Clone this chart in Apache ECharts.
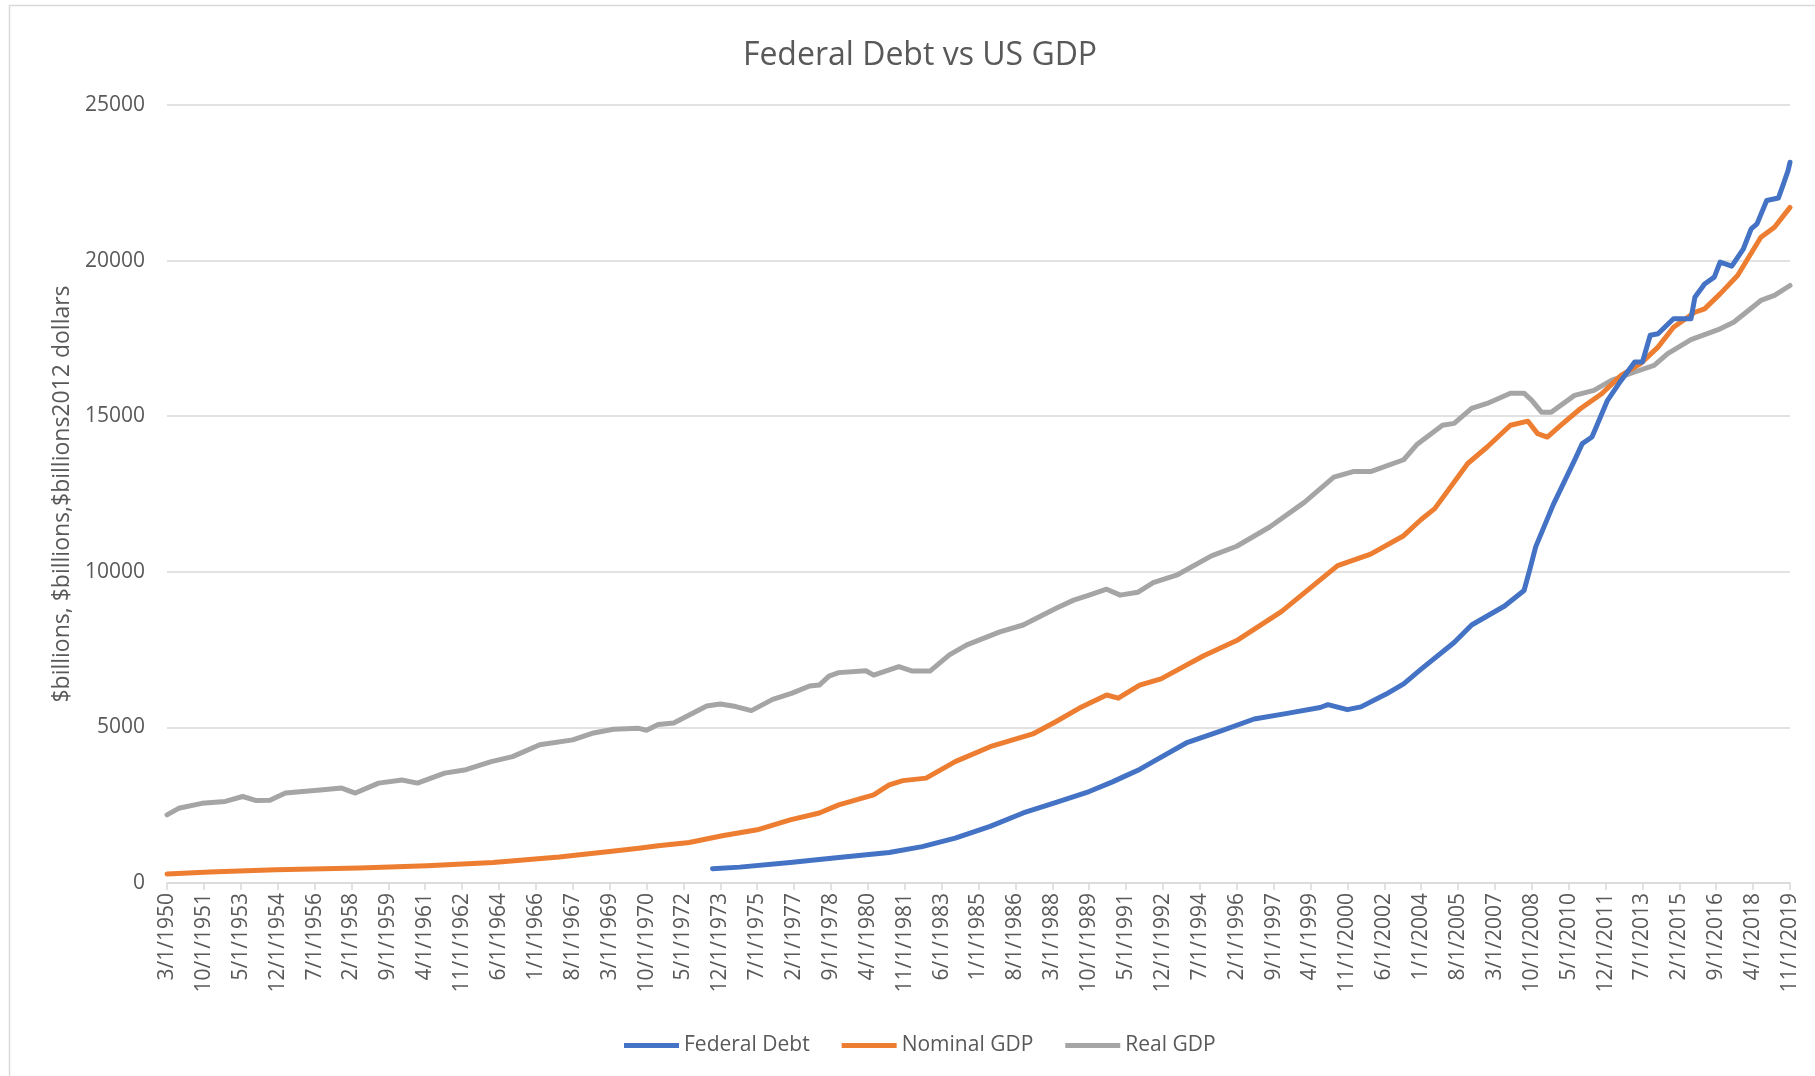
<!DOCTYPE html>
<html>
<head>
<meta charset="utf-8">
<title>Federal Debt vs US GDP</title>
<script src="https://cdn.jsdelivr.net/npm/echarts@6/dist/echarts.min.js"></script>
<style>
  html, body { margin: 0; padding: 0; background: #fff; }
  #chart { width: 1815px; height: 1076px; }
</style>
</head>
<body>
<div id="chart"></div>
<script>
// monthly category range of the sheet: 3/1/1950 .. 11/1/2019
const firstYear = 1950, firstMonth = 3;
const lastYear = 2019, lastMonth = 11;

const debtDates = ["8/1/1973","10/1/1974","12/1/1976","1/1/1979","3/1/1981","8/1/1982","1/1/1984","7/1/1985","12/1/1986","5/1/1988",
  "10/1/1989","10/1/1990","5/1/1991","12/1/1991","7/1/1992","12/1/1993","6/1/1995","11/1/1996","4/1/1998","9/1/1999",
  "1/1/2000","11/1/2000","6/1/2001","7/1/2002","4/1/2003","1/1/2004","6/1/2005","3/1/2006","8/1/2007","6/1/2008",
  "9/1/2008","12/1/2008","9/1/2009","8/1/2010","12/1/2010","5/1/2011","1/1/2012","8/1/2012","3/1/2013","7/1/2013",
  "11/1/2013","3/1/2014","11/1/2014","8/1/2015","10/1/2015","3/1/2016","8/1/2016","11/1/2016","5/1/2017","11/1/2017",
  "3/1/2018","6/1/2018","11/1/2018","5/1/2019","7/1/2019","10/1/2019","11/1/2019"];
const debtValues = [460,510,660,820,980,1170,1440,1820,2250,2590,
  2940,3250,3450,3650,3900,4500,4890,5270,5450,5640,
  5730,5570,5660,6070,6400,6870,7730,8290,8900,9400,
  10080,10800,12150,13580,14120,14330,15510,16150,16740,16740,
  17600,17650,18130,18130,18820,19250,19470,19950,19820,20380,
  21020,21180,21930,22010,22350,22890,23160];

const nominalDates = ["3/1/1950","1/1/1952","11/1/1954","6/1/1958","5/1/1961","3/1/1964","1/1/1967","3/1/1969","6/1/1970","4/1/1971",
  "8/1/1972","1/1/1974","7/1/1975","12/1/1976","3/1/1978","1/1/1979","7/1/1980","3/1/1981","10/1/1981","10/1/1982",
  "1/1/1984","7/1/1985","5/1/1987","5/1/1988","5/1/1989","7/1/1990","1/1/1991","12/1/1991","11/1/1992","9/1/1994",
  "2/1/1996","1/1/1998","6/1/1999","6/1/2000","11/1/2001","4/1/2003","1/1/2004","8/1/2004","1/1/2006","11/1/2006",
  "11/1/2007","8/1/2008","1/1/2009","6/1/2009","1/1/2010","11/1/2010","10/1/2011","8/1/2012","6/1/2013","3/1/2014",
  "11/1/2014","10/1/2015","3/1/2016","11/1/2016","8/1/2017","8/1/2018","3/1/2019","11/1/2019"];
const nominalValues = [290,350,425,480,555,660,835,1015,1120,1195,
  1300,1520,1710,2030,2250,2510,2830,3150,3290,3370,
  3900,4380,4790,5190,5620,6040,5940,6360,6560,7300,
  7790,8720,9590,10200,10570,11160,11680,12030,13480,14010,
  14710,14840,14440,14330,14710,15240,15720,16310,16690,17220,
  17860,18340,18450,18930,19520,20750,21070,21710];

const realDates = ["3/1/1950","9/1/1950","9/1/1951","9/1/1952","6/1/1953","1/1/1954","8/1/1954","4/1/1955","1/1/1956","10/1/1956",
  "9/1/1957","4/1/1958","4/1/1959","4/1/1960","12/1/1960","2/1/1962","1/1/1963","2/1/1964","1/1/1965","3/1/1966",
  "8/1/1967","6/1/1968","5/1/1969","6/1/1970","10/1/1970","4/1/1971","12/1/1971","8/1/1972","5/1/1973","12/1/1973",
  "8/1/1974","4/1/1975","3/1/1976","1/1/1977","10/1/1977","3/1/1978","8/1/1978","1/1/1979","3/1/1980","7/1/1980",
  "8/1/1981","3/1/1982","12/1/1982","10/1/1983","7/1/1984","12/1/1985","12/1/1986","5/1/1988","2/1/1989","10/1/1989",
  "7/1/1990","2/1/1991","11/1/1991","7/1/1992","7/1/1993","1/1/1995","2/1/1996","7/1/1997","1/1/1999","4/1/2000",
  "2/1/2001","11/1/2001","4/1/2003","11/1/2003","12/1/2004","6/1/2005","3/1/2006","11/1/2006","11/1/2007","6/1/2008",
  "10/1/2008","3/1/2009","8/1/2009","8/1/2010","6/1/2011","3/1/2012","3/1/2013","1/1/2014","8/1/2014","8/1/2015",
  "10/1/2016","6/1/2017","8/1/2018","3/1/2019","11/1/2019"];
const realValues = [2190,2400,2560,2620,2780,2650,2660,2890,2940,2990,
  3050,2890,3210,3310,3210,3530,3640,3900,4060,4440,
  4600,4810,4940,4970,4910,5090,5140,5400,5690,5750,
  5670,5540,5900,6100,6330,6360,6650,6760,6820,6680,
  6950,6810,6810,7330,7650,8070,8290,8830,9090,9250,
  9440,9250,9340,9650,9890,10510,10820,11440,12240,13040,
  13220,13220,13600,14100,14710,14770,15250,15410,15740,15740,
  15510,15130,15130,15670,15830,16150,16420,16630,17010,17460,
  17780,18020,18720,18880,19200];

const yTicks = [0, 5000, 10000, 15000, 20000, 25000];

// the sheet's month column
let months = [];
for (let y = firstYear, m = firstMonth; y < lastYear || (y === lastYear && m <= lastMonth); ) {
  months.push(m + "/1/" + y);
  m++;
  if (m > 12) { m = 1; y++; }
}

function pairs(dates, values) {
  return dates.map((d, i) => [d, values[i]]);
}

const font = "'Open Sans', 'Noto Sans', sans-serif";
const textColor = "#595959";
const gridColor = "#D9D9D9";

let myChart = echarts.init(document.getElementById("chart"), null, { renderer: "canvas" });
let option = {
  backgroundColor: "#fff",
  animation: false,
  textStyle: { fontFamily: font },
  title: {
    text: "Federal Debt vs US GDP",
    left: 915,
    textAlign: "center",
    top: 35,
    textStyle: { fontFamily: font, fontSize: 32, fontWeight: "normal", color: textColor },
  },
  // chart area frame
  graphic: [{
    type: "rect",
    shape: { x: 9.5, y: 5.5, width: 1900, height: 1200 },
    style: { fill: "none", stroke: gridColor, lineWidth: 1.5 },
    silent: true,
  }],
  legend: {
    left: 619,
    top: 1030,
    icon: "rect",
    itemWidth: 55,
    itemHeight: 5,
    itemGap: 32,
    textStyle: { fontFamily: font, fontSize: 21, color: textColor },
    data: ["Federal Debt", "Nominal GDP", "Real GDP"],
  },
  grid: { left: 167, right: 25, top: 105, bottom: 193 },
  xAxis: {
    type: "category",
    data: months,
    boundaryGap: false,
    axisLine: { lineStyle: { color: gridColor, width: 1.5 } },
    axisTick: { show: true, interval: 18, length: 7, lineStyle: { color: gridColor, width: 1.5 } },
    axisLabel: {
      interval: 18,
      rotate: 90,
      margin: 10,
      fontFamily: font,
      fontSize: 21,
      color: textColor,
    },
  },
  yAxis: {
    type: "value",
    min: yTicks[0],
    max: yTicks[yTicks.length - 1],
    interval: yTicks[1] - yTicks[0],
    name: "$billions, $billions,$billions2012 dollars",
    nameLocation: "middle",
    nameGap: 88,
    nameTextStyle: { fontFamily: font, fontSize: 23, color: textColor },
    axisLine: { show: false },
    axisTick: { show: false },
    axisLabel: {
      margin: 22,
      fontFamily: font,
      fontSize: 21,
      color: textColor,
      formatter: (v) => String(v),
    },
    splitLine: { lineStyle: { color: gridColor, width: 1.5 } },
  },
  series: [
    {
      name: "Federal Debt",
      type: "line",
      data: pairs(debtDates, debtValues),
      showSymbol: false,
      symbol: "none",
      color: "#4472C4",
      lineStyle: { width: 5, join: "round", cap: "round" },
      z: 3,
    },
    {
      name: "Nominal GDP",
      type: "line",
      data: pairs(nominalDates, nominalValues),
      showSymbol: false,
      symbol: "none",
      color: "#ED7D31",
      lineStyle: { width: 5, join: "round", cap: "round" },
      z: 2,
    },
    {
      name: "Real GDP",
      type: "line",
      data: pairs(realDates, realValues),
      showSymbol: false,
      symbol: "none",
      color: "#A5A5A5",
      lineStyle: { width: 5, join: "round", cap: "round" },
      z: 1,
    },
  ],
};
option && myChart.setOption(option);
</script>
</body>
</html>
